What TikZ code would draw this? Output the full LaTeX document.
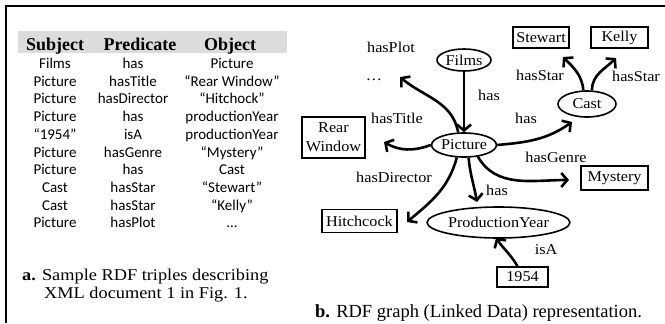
\documentclass[tikz,border=0pt]{standalone}
\usepackage{fontspec}
\setmainfont{Liberation Serif}
\newfontfamily\gfont[FakeStretch=1.08]{Liberation Serif}
\newfontfamily\cfont[FakeStretch=1.11]{Liberation Serif}
\newfontfamily\tfont{Carlito}
\usetikzlibrary{arrows.meta,shapes.geometric}
\definecolor{hdrgray}{RGB}{220,220,220}
\begin{document}
\begin{tikzpicture}[x=1bp,y=1bp,
  lbl/.style={font=\gfont\fontsize{15bp}{18bp}\selectfont, inner sep=0},
  ell/.style={ellipse, draw, line width=1.6bp, inner sep=0, font=\gfont\fontsize{15bp}{18bp}\selectfont},
  box/.style={rectangle, draw, line width=1.6bp, inner sep=0, align=center, font=\gfont\fontsize{15bp}{19bp}\selectfont},
  arr/.style={line width=2.6bp, -{Straight Barb[length=6bp,width=14bp,line width=2.6bp]}},
  tb/.style={font=\tfont\fontsize{15bp}{17bp}\selectfont, inner sep=0, anchor=base},
  th/.style={font=\bfseries\fontsize{18bp}{20bp}\selectfont, inner sep=0, anchor=base},
  captxt/.style={font=\cfont\fontsize{16.5bp}{20bp}\selectfont, inner sep=0, anchor=base west}
]
\useasboundingbox (0,0) rectangle (665,323);
% frame
\draw[line width=2.5bp] (6,0) -- (6,317) -- (665,317);
% table header
\fill[hdrgray] (18,292) rectangle (287,270);
\node[th] (h1) at (55,273) {Subject};
\node[th] (h2) at (140,273) {Predicate};
\node[th] (h3) at (230,273) {Object};
% table rows
\foreach \s/\p/\o [count=\i from 0] in {Films/has/Picture,
  Picture/hasTitle/{“Rear Window”},
  Picture/hasDirector/{“Hitchock”},
  Picture/has/productionYear,
  {“1954”}/isA/productionYear,
  Picture/hasGenre/{“Mystery”},
  Picture/has/Cast,
  Cast/hasStar/{“Stewart”},
  Cast/hasStar/{“Kelly”},
  Picture/hasPlot/…}{
  \node[tb] (s\i) at (55,{254.5-17.7*\i}) {\s};
  \node[tb] (p\i) at (133,{254.5-17.7*\i}) {\p};
  \node[tb] (o\i) at (232,{254.5-17.7*\i}) {\o};
}
% caption a
\node[captxt] (capa1) at (22,43) {\textbf{a.} Sample RDF triples describing};
\node[captxt] (capa2) at (44,25) {XML document 1 in Fig. 1.};
% graph nodes
\node[ell, minimum width=54bp, minimum height=22bp] (films) at (464,263) {Films};
\node[ell, minimum width=60bp, minimum height=24bp] (picture) at (464,178) {Picture};
\node[ell, minimum width=58bp, minimum height=26bp] (cast) at (587,219) {Cast};
\node[ell, minimum width=115bp, minimum height=31bp] (py) at (498.5,100.5) {ProductionYear};
\node[box, minimum width=56bp, minimum height=21bp] (stewart) at (541,285.5) {Stewart};
\node[box, minimum width=57bp, minimum height=21bp] (kelly) at (619.5,285.5) {Kelly};
\node[box, minimum width=63bp, minimum height=41bp] (rw) at (333.5,185.5) {Rear\\Window};
\node[box, minimum width=67bp, minimum height=24bp] (mystery) at (614.5,145) {Mystery};
\node[box, minimum width=75bp, minimum height=23bp] (hitch) at (359.5,102) {Hitchcock};
\node[box, minimum width=51bp, minimum height=20bp] (y1954) at (522.5,46) {1954};
% labels
\node[lbl] (lplot) at (391,276) {hasPlot};
\node[lbl] (ldots) at (374,243) {…};
\node[lbl] (lhas1) at (489,228) {has};
\node[lbl] (ltitle) at (397,205) {hasTitle};
\node[lbl] (lhas2) at (526,205) {has};
\node[lbl] (lstar1) at (540,248) {hasStar};
\node[lbl] (lstar2) at (636,247) {hasStar};
\node[lbl] (lgenre) at (556,166) {hasGenre};
\node[lbl] (ldir) at (394,146) {hasDirector};
\node[lbl] (lhas3) at (497,133) {has};
\node[lbl] (lisa) at (546,73) {isA};
\node[captxt, font=\fontsize{18.5bp}{20bp}\selectfont, anchor=base west] (capb) at (315,6) {\textbf{b.} RDF graph (Linked Data) representation.};
% arrow end points
\coordinate (eplot) at (400,246);
\coordinate (erw) at (384,181);
\coordinate (ehitch) at (407,101);
\coordinate (epy) at (477,121);
\coordinate (emys) at (569,143);
\coordinate (ecast) at (572,201);
\coordinate (estew) at (563,266);
\coordinate (ekelly) at (616,265);
\coordinate (eisa) at (496,85);
% edges
\draw[arr] (films) -- (picture);
\draw[arr] (picture.115) to[out=100,in=-40] (eplot);
\draw[arr] (picture.west) to[out=200,in=-30] (erw);
\draw[arr] (picture.240) to[out=255,in=40] (ehitch);
\draw[arr] (picture.290) to[out=-85,in=100] (epy);
\draw[arr] (picture.-40) to[out=-60,in=180] (emys);
\draw[arr] (picture.east) to[out=5,in=215] (ecast);
\draw[arr] (cast.105) to[out=95,in=-45] (estew);
\draw[arr] (cast.70) to[out=90,in=-135] (ekelly);
\draw[arr] (y1954.115) to[out=120,in=-55] (eisa);
\end{tikzpicture}
\end{document}
